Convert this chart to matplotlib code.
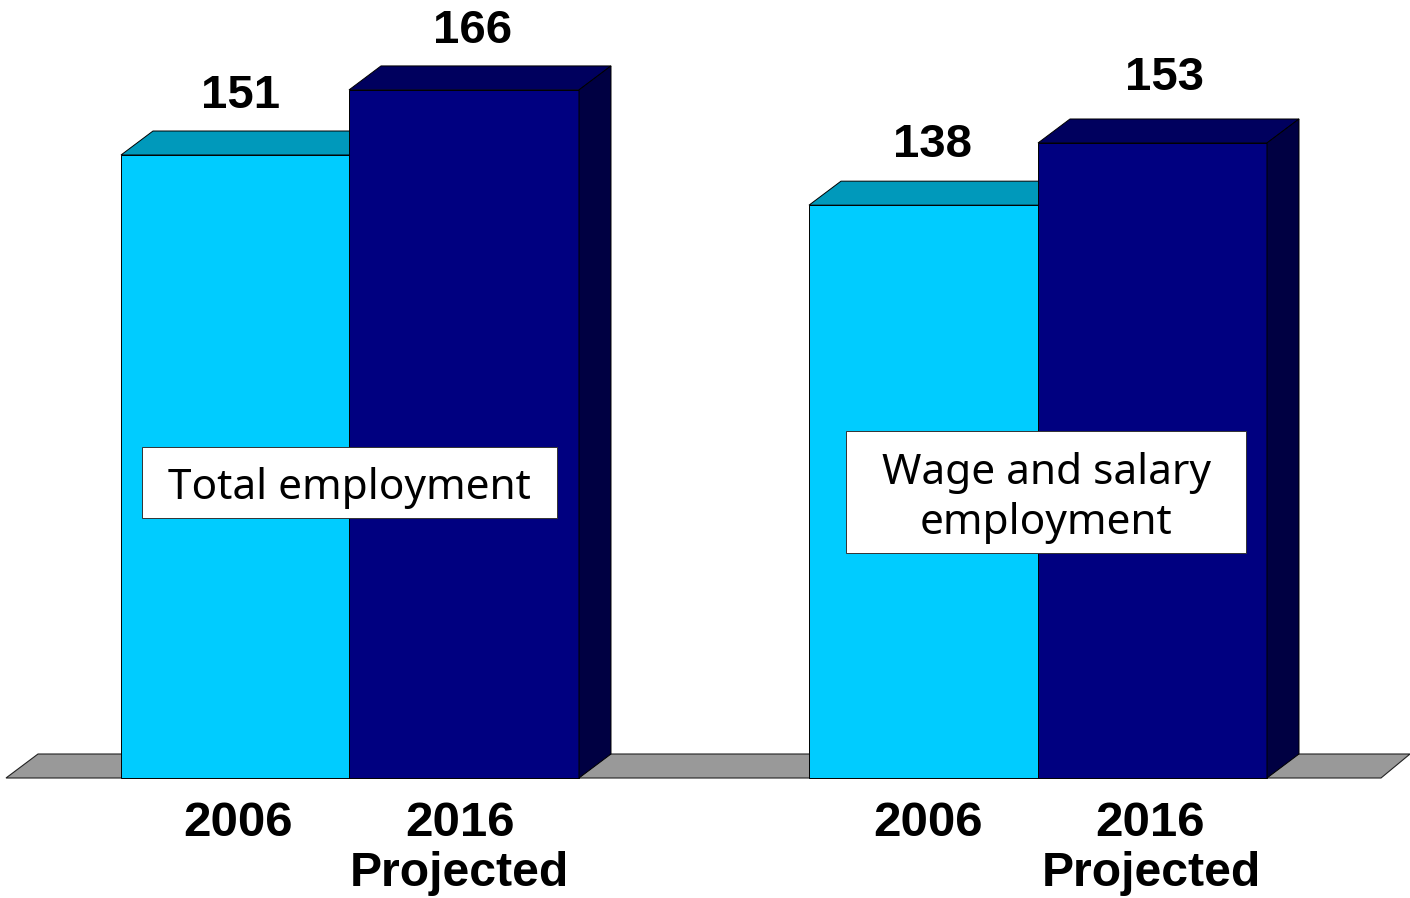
import matplotlib
matplotlib.use('Agg')
import matplotlib.pyplot as plt
from matplotlib.patches import Polygon

# Values (bar heights are slightly off the printed rounded labels)
groups = ['Total employment', 'Wage and salary\nemployment']
heights_2006 = [150.3, 138.2]
heights_2016 = [166.0, 153.2]
labels_2006 = ['151', '138']
labels_2016 = ['166', '153']

W, H = 1410, 898
PX_PER_UNIT = 4.145
BASE_PX = 778
DX = 32
DY = 24 / PX_PER_UNIT


def py(px):
    # pixel row of the picture -> data value
    return (BASE_PX - px) / PX_PER_UNIT


LIGHT, LIGHT_TOP = '#00ccff', '#0099bb'
DARK, DARK_TOP, DARK_SIDE = '#000080', '#00005e', '#000042'
BOLD = dict(family='Liberation Sans', fontweight='bold', ha='center', va='center', zorder=6)

fig = plt.figure(figsize=(W / 100, H / 100), dpi=100)
ax = fig.add_axes([0, 0, 1, 1])
ax.set_xlim(0, W)
ax.set_ylim(py(H), py(0))
ax.axis('off')

# floor
ax.add_patch(Polygon([(6, 0), (38, DY), (1410, DY), (1381, 0)], closed=True,
                     fc='#999999', ec='#222222', lw=0.8, zorder=1))

lefts_a = [121, 809]
lefts_b = [349, 1038]
widths_a = [228, 229]
widths_b = [230, 229]
label_xy_a = [(241, 96), (933, 145)]
label_xy_b = [(473, 31), (1165, 78)]

for i in range(2):
    xa, xb = lefts_a[i], lefts_b[i]
    wa, wb = widths_a[i], widths_b[i]
    va, vb = heights_2006[i], heights_2016[i]
    # top of the light bar, goes behind the dark one
    ax.add_patch(Polygon([(xa, va), (xa + DX, va + DY), (xa + wa + DX, va + DY), (xa + wa, va)],
                         closed=True, fc=LIGHT_TOP, ec='black', lw=0.7, zorder=2))
    ax.bar(xa, va, width=wa, align='edge', color=LIGHT, edgecolor='black', linewidth=0.7, zorder=3)
    ax.bar(xb, vb, width=wb, align='edge', color=DARK, edgecolor='black', linewidth=0.7, zorder=4)
    ax.add_patch(Polygon([(xb, vb), (xb + DX, vb + DY), (xb + wb + DX, vb + DY), (xb + wb, vb)],
                         closed=True, fc=DARK_TOP, ec='black', lw=0.7, zorder=4))
    ax.add_patch(Polygon([(xb + wb, 0), (xb + wb + DX, DY), (xb + wb + DX, vb + DY), (xb + wb, vb)],
                         closed=True, fc=DARK_SIDE, ec='black', lw=0.7, zorder=4))

    # value labels
    ax.text(label_xy_a[i][0], py(label_xy_a[i][1]), labels_2006[i], fontsize=34, **BOLD)
    ax.text(label_xy_b[i][0], py(label_xy_b[i][1]), labels_2016[i], fontsize=34, **BOLD)

# year labels
for x in [238, 928]:
    ax.text(x, py(824), '2006', fontsize=35.5, **BOLD)
for x in [460, 1150]:
    ax.text(x, py(824), '2016', fontsize=35.5, **BOLD)
    ax.text(x - 1 + (x > 1000) * 2, py(874), 'Projected', fontsize=34.7, **BOLD)

# text boxes on the bars
boxes = [(142, 447, 557, 518), (846, 431, 1246, 553)]
text_rows = [488, 498]
for (x0, y0, x1, y1), lab, row in zip(boxes, groups, text_rows):
    ax.add_patch(Polygon([(x0, py(y1)), (x0, py(y0)), (x1, py(y0)), (x1, py(y1))], closed=True,
                         fc='white', ec='#333333', lw=0.7, zorder=7))
    ax.text((x0 + x1) / 2, py(row), lab, ha='center', va='center', family='Noto Sans',
            fontsize=30.5, linespacing=1.23, zorder=8)

fig.savefig('out.png', dpi=100)
